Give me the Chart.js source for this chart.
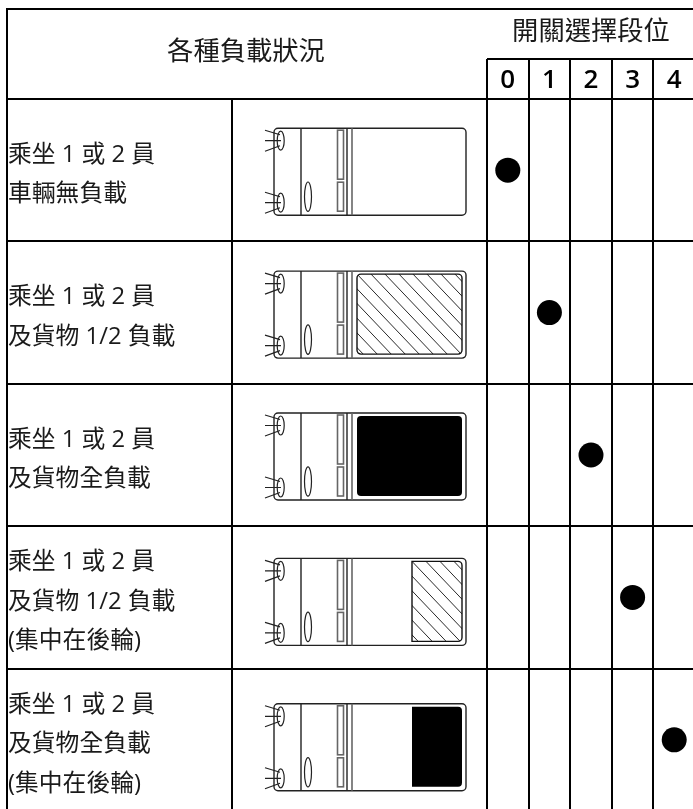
<!DOCTYPE html>
<html lang="zh-Hant">
<head>
<meta charset="utf-8">
<title>開關選擇段位</title>
<script src="https://cdn.jsdelivr.net/npm/chart.js@4/dist/chart.umd.min.js"></script>
<style>
html,body{margin:0;padding:0;background:#fff;overflow:hidden;width:693px;height:809px}
canvas{display:block}
</style>
</head>
<body>
<canvas id="c" width="695" height="811"></canvas>
<script>
const switchPositions = ['0', '1', '2', '3', '4'];
const conditionRows = [
  '乘坐 1 或 2 員\n車輛無負載',
  '乘坐 1 或 2 員\n及貨物 1/2 負載',
  '乘坐 1 或 2 員\n及貨物全負載',
  '乘坐 1 或 2 員\n及貨物 1/2 負載\n(集中在後輪)',
  '乘坐 1 或 2 員\n及貨物全負載\n(集中在後輪)'
];
const selectedPosition = ['0', '1', '2', '3', '4'];
const loadLevel = ['none', 'half', 'full', 'half', 'full'];
const loadArea = ['all', 'all', 'all', 'rear', 'rear'];
const headerLeft = '各種負載狀況';
const headerRight = '開關選擇段位';

const FONT = '"Open Sans","Noto Sans CJK TC",sans-serif';
const INK = '#1a1a1a';
const LINE = '#000';

function noAxisMargins(scale) {
  scale.paddingLeft = 0; scale.paddingRight = 0;
  scale.paddingTop = 0; scale.paddingBottom = 0;
}

function drawTruck(ctx, x0, y0, level, area) {
  ctx.save();
  ctx.translate(x0, y0);
  ctx.lineWidth = 1.4;
  ctx.strokeStyle = '#222';
  ctx.fillStyle = '#fff';

  ctx.beginPath(); ctx.roundRect(0, 0, 192, 87, 4); ctx.stroke();
  ctx.beginPath(); ctx.moveTo(27, 0); ctx.lineTo(27, 87); ctx.stroke();
  ctx.beginPath(); ctx.moveTo(73, 0); ctx.lineTo(73, 87); ctx.stroke();
  ctx.strokeStyle = '#666';
  ctx.lineWidth = 1.6;
  ctx.beginPath(); ctx.moveTo(78, 0); ctx.lineTo(78, 87); ctx.stroke();
  ctx.strokeRect(63.5, 2, 6, 49);
  ctx.strokeRect(63.5, 54, 6, 29);

  ctx.strokeStyle = '#222';
  ctx.lineWidth = 1.2;
  [12.5, 74.5].forEach(c => {
    ctx.beginPath(); ctx.ellipse(6.7, c, 3.5, 9.5, 0, 0, Math.PI * 2); ctx.stroke();
    ctx.beginPath();
    ctx.moveTo(-9, c - 10.5); ctx.lineTo(6, c - 6);
    ctx.moveTo(-9, c); ctx.lineTo(7, c);
    ctx.moveTo(-9, c + 10.5); ctx.lineTo(6, c + 5);
    ctx.stroke();
  });
  ctx.beginPath(); ctx.ellipse(34, 68.5, 3.5, 14.7, 0, 0, Math.PI * 2); ctx.stroke();

  if (level !== 'none') {
    const left = area === 'rear' ? 138 : 83;
    const top = 3, right = 188, bottom = 83;
    const radii = area === 'rear' ? [0, 4, 4, 0] : 4;
    ctx.beginPath();
    ctx.roundRect(left, top, right - left, bottom - top, radii);
    if (level === 'full') {
      ctx.fillStyle = '#000';
      ctx.fill();
    } else {
      ctx.save();
      ctx.strokeStyle = '#111';
      ctx.lineWidth = 1.4;
      ctx.stroke();
      ctx.clip();
      ctx.lineWidth = 0.9;
      ctx.beginPath();
      for (let s = -98; s < 200; s += 14) {
        ctx.moveTo(left + s, top);
        ctx.lineTo(left + s + 100, top + 105);
      }
      ctx.stroke();
      ctx.restore();
    }
  }
  ctx.restore();
}

const tableFrame = {
  id: 'tableFrame',
  afterDraw(chart) {
    const { ctx } = chart;
    const x = chart.scales.x, y = chart.scales.y;
    const left = 7, top = 9, colSplit = 232, truckX = 274;
    const truckTopOffset = [-42, -41.5, -42, -39, -36];
    ctx.save();
    ctx.strokeStyle = LINE;
    ctx.lineWidth = 2;
    ctx.beginPath();
    ctx.moveTo(left, top - 1); ctx.lineTo(left, chart.height);
    ctx.moveTo(left, top); ctx.lineTo(chart.width, top);
    ctx.moveTo(x.left, 59); ctx.lineTo(chart.width, 59);
    ctx.moveTo(colSplit, y.top); ctx.lineTo(colSplit, chart.height);
    ctx.stroke();

    ctx.fillStyle = INK;
    ctx.font = '26.3px ' + FONT;
    ctx.textAlign = 'center';
    ctx.textBaseline = 'middle';
    ctx.fillText(headerLeft, (left + x.left) / 2 - 1, 52.5);

    conditionRows.forEach((row, i) => {
      const cy = y.getPixelForValue(i);
      drawTruck(ctx, truckX, cy + truckTopOffset[i], loadLevel[i], loadArea[i]);
    });
    ctx.restore();
  }
};

new Chart(document.getElementById('c'), {
  type: 'scatter',
  data: {
    datasets: [{
      label: headerRight,
      data: conditionRows.map((row, i) => ({ x: selectedPosition[i], y: row })),
      backgroundColor: '#000',
      borderWidth: 0,
      pointRadius: 12.5,
      pointHoverRadius: 12.5,
      clip: false
    }]
  },
  options: {
    responsive: false,
    animation: false,
    layout: { autoPadding: false, padding: { left: 8, top: 0, right: 0, bottom: 0 } },
    plugins: { legend: { display: false }, tooltip: { enabled: false }, title: { display: false } },
    scales: {
      x: {
        type: 'category',
        labels: switchPositions,
        position: 'top',
        offset: true,
        grid: { offset: true, color: LINE, lineWidth: 2, tickLength: 40, drawTicks: true },
        border: { color: LINE, width: 2 },
        title: {
          display: true, text: headerRight, color: INK,
          font: { family: FONT, size: 26.3, lineHeight: 1.2 },
          padding: { top: 17, bottom: 0 }
        },
        ticks: {
          color: '#000', autoSkip: false, maxRotation: 0, minRotation: 0,
          padding: -37, font: { family: FONT, size: 26, weight: '600' }
        },
        afterFit(scale) { scale.height = 99; noAxisMargins(scale); }
      },
      y: {
        type: 'category',
        labels: conditionRows,
        offset: true,
        grid: { offset: true, color: LINE, lineWidth: 2, tickLength: 480, drawTicks: true },
        border: { color: LINE, width: 2 },
        ticks: {
          color: INK, autoSkip: false, crossAlign: 'far',
          font: { family: FONT, size: 23.8, lineHeight: 1.66 },
          callback(value) { return this.getLabelForValue(value).split('\n'); }
        },
        afterFit(scale) {
          scale.width = 479;
          noAxisMargins(scale);
          if (!scale._labelShift) {
            scale._labelShift = true;
            const drawLabels = scale.drawLabels;
            scale.drawLabels = function (area) {
              this.ctx.save();
              this.ctx.translate(0, 4.5);
              drawLabels.call(this, area);
              this.ctx.restore();
            };
          }
        }
      }
    }
  },
  plugins: [tableFrame]
});
</script>
</body>
</html>
